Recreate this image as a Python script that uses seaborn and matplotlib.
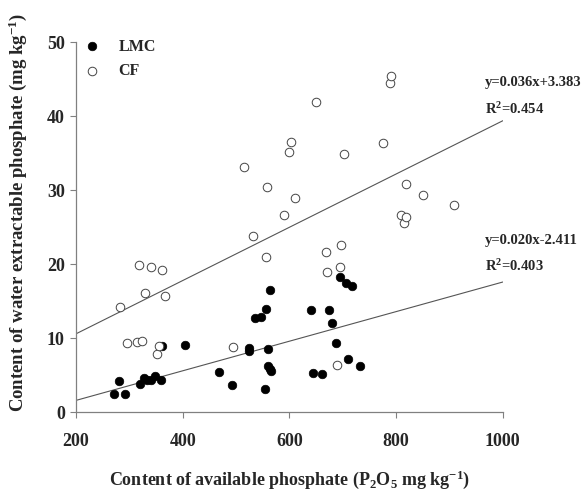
import matplotlib
matplotlib.use("Agg")
import matplotlib.pyplot as plt
import seaborn as sns
import numpy as np
import pandas as pd

# ---- data ----
lmc_x = [271, 280, 292, 321, 327, 333, 340, 349, 359, 362, 404, 468, 493, 524, 524,
         536, 546, 554, 556, 560, 560, 563, 563, 566, 640, 644, 662, 675, 679, 688,
         694, 706, 710, 718, 733]
lmc_y = [2.4, 4.2, 2.5, 3.8, 4.6, 4.4, 4.3, 4.9, 4.3, 9.0, 9.1, 5.4, 3.7, 8.7, 8.2,
         12.7, 12.8, 3.1, 14.0, 8.5, 6.3, 16.5, 5.8, 5.5, 13.8, 5.3, 5.2, 13.8, 12.1, 9.3,
         18.3, 17.5, 7.2, 17.0, 6.3]

cf_x = [282, 295, 315, 319, 324, 329, 340, 352, 356, 361, 367, 495, 515, 531, 556,
        559, 590, 599, 603, 611, 649, 669, 671, 690, 694, 696, 703, 775, 789, 791,
        810, 814, 818, 818, 851, 909]
cf_y = [14.2, 9.3, 9.5, 19.9, 9.6, 16.1, 19.6, 7.9, 9.0, 19.2, 15.7, 8.8, 33.1, 23.8, 21.0,
        30.4, 26.6, 35.1, 36.5, 28.9, 41.9, 21.6, 18.9, 6.4, 19.6, 22.6, 34.9, 36.4, 44.5, 45.4,
        26.7, 25.6, 30.9, 26.4, 29.3, 28.0]

cf_fit = (0.036, 3.383, 0.454)
lmc_fit = (0.020, -2.411, 0.403)
fit_x = [200, 1000]

x_ticks = [200, 400, 600, 800, 1000]
y_ticks = [0, 10, 20, 30, 40, 50]

# ---- style ----
sns.set_theme(style="white")
plt.rcParams["font.family"] = ["Liberation Serif", "DejaVu Serif"]
plt.rcParams["font.weight"] = "bold"
plt.rcParams["mathtext.fontset"] = "custom"
plt.rcParams["mathtext.rm"] = "Liberation Serif:bold"
plt.rcParams["mathtext.bf"] = "Liberation Serif:bold"
plt.rcParams["mathtext.it"] = "Liberation Serif:bold"

fig = plt.figure(figsize=(5.84, 4.96), dpi=100)
ax = fig.add_axes([0.130, 0.169, 0.731, 0.746])

df_l = pd.DataFrame({"x": lmc_x, "y": lmc_y})
df_c = pd.DataFrame({"x": cf_x, "y": cf_y})

sns.scatterplot(data=df_l, x="x", y="y", ax=ax, s=38, color="black",
                edgecolor="black", linewidth=0.5, label="LMC", zorder=3)
sns.scatterplot(data=df_c, x="x", y="y", ax=ax, s=38, facecolor="white",
                edgecolor="#444444", linewidth=0.7, label="CF", zorder=3)

for m, b, r2 in (cf_fit, lmc_fit):
    fx = np.array(fit_x, dtype=float)
    ax.plot(fx, m * fx + b, color="#555555", linewidth=0.8, zorder=2)

txt_kw = dict(fontsize=10.5, fontweight="bold", ha="left", va="center",
              clip_on=False)
ax.text(966, 44.5, "y=%.3fx+%.3f" % (cf_fit[0], cf_fit[1]), **txt_kw)
ax.text(966, 41.0, r"R$^{2}$=%.3f" % cf_fit[2], **txt_kw)
ax.text(966, 23.2, "y=%.3fx%.3f" % (lmc_fit[0], lmc_fit[1]), **txt_kw)
ax.text(966, 19.8, r"R$^{2}$=%.3f" % lmc_fit[2], **txt_kw)

ax.set_xlim(200, 1000)
ax.set_ylim(0, 50)
ax.set_xticks(x_ticks)
ax.set_yticks(y_ticks)
ax.tick_params(axis="both", which="both", direction="out", length=4, width=0.8,
               color="#808080", labelsize=13, left=True, bottom=True)
ax.tick_params(axis="x", pad=11)
ax.tick_params(axis="y", pad=4)
for lab in ax.get_xticklabels() + ax.get_yticklabels():
    lab.set_fontweight("bold")

for side in ("top", "right"):
    ax.spines[side].set_visible(False)
for side in ("left", "bottom"):
    ax.spines[side].set_color("#808080")
    ax.spines[side].set_linewidth(0.9)

ax.set_xlabel(r"Content of available phosphate (P$_{2}$O$_{5}$ mg kg$^{-1}$)",
              fontsize=13, fontweight="bold", labelpad=13)
ax.set_ylabel(r"Content of water extractable phosphate (mg kg$^{-1}$)",
              fontsize=13.5, fontweight="bold")
ax.yaxis.set_label_coords(-0.11, 0.54)

leg = ax.legend(loc="upper left", frameon=False, fontsize=11.5,
                bbox_to_anchor=(-0.027, 1.04), handletextpad=0.7, labelspacing=0.55,
                borderaxespad=0.3)
for t in leg.get_texts():
    t.set_fontweight("bold")

fig.savefig("out.png", dpi=100)
